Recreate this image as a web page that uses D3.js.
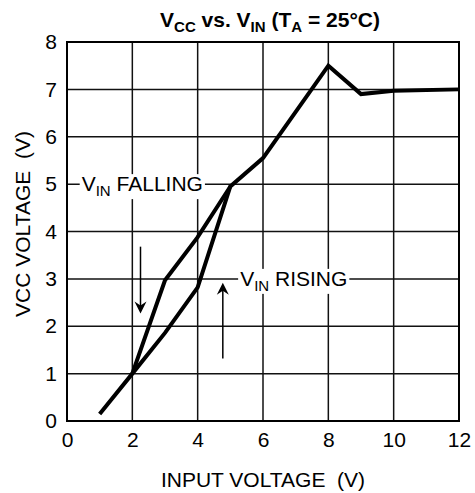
<!DOCTYPE html>
<html>
<head>
<meta charset="utf-8">
<script src="https://cdn.jsdelivr.net/npm/d3@7"></script>
<style>
  body { margin: 0; background: #fff; }
  text { font-family: "Liberation Sans", Arial, sans-serif; fill: #000; }
</style>
</head>
<body>
<script>
// data
const vinRising = [1, 2, 3, 4, 5, 6, 8, 9, 10, 12],
    vccRising = [0.15, 1, 1.86, 2.82, 4.95, 5.55, 7.5, 6.9, 6.97, 7.0],
    vinFalling = [2, 3, 4, 5],
    vccFalling = [1, 2.97, 3.88, 4.95],
    xTicks = [0, 2, 4, 6, 8, 10, 12],
    yTicks = [0, 1, 2, 3, 4, 5, 6, 7, 8];

const margin = { top: 42, right: 16, bottom: 72, left: 67 },
    width = 475,
    height = 493,
    graphWidth = width - margin.left - margin.right,
    graphHeight = height - margin.top - margin.bottom;

const svg = d3.select("body").append("svg")
    .attr("width", width)
    .attr("height", height);

const graph = svg.append("g")
    .attr("transform", `translate(${margin.left}, ${margin.top})`);

const x = d3.scaleLinear().domain([0, 12]).range([0, graphWidth]),
    y = d3.scaleLinear().domain([0, 8]).range([graphHeight, 0]);

// grid
graph.append("g")
    .selectAll("line")
    .data(xTicks)
    .join("line")
    .attr("x1", d => x(d)).attr("x2", d => x(d))
    .attr("y1", 0).attr("y2", graphHeight)
    .attr("stroke", "#111").attr("stroke-width", 1.5);

graph.append("g")
    .selectAll("line")
    .data(yTicks)
    .join("line")
    .attr("x1", 0).attr("x2", graphWidth)
    .attr("y1", d => y(d)).attr("y2", d => y(d))
    .attr("stroke", "#111").attr("stroke-width", 1.5);

graph.append("rect")
    .attr("width", graphWidth).attr("height", graphHeight)
    .attr("fill", "none").attr("stroke", "#000").attr("stroke-width", 2);

// axes (labels only)
const xAxis = d3.axisBottom(x).tickValues(xTicks).tickSize(0).tickPadding(11);
const yAxis = d3.axisLeft(y).tickValues(yTicks).tickSize(0).tickPadding(10);

graph.append("g")
    .attr("transform", `translate(0, ${graphHeight})`)
    .call(xAxis)
    .call(g => g.select(".domain").remove())
    .selectAll("text")
    .style("font-size", "21px")
    .style("font-family", "Liberation Sans, Arial, sans-serif");

graph.append("g")
    .call(yAxis)
    .call(g => g.select(".domain").remove())
    .selectAll("text")
    .style("font-size", "21px")
    .style("font-family", "Liberation Sans, Arial, sans-serif");

// annotation labels with white backing
function subLabel(xv, yv, main, sub, rest) {
    const g = graph.append("g");
    const bg = g.append("rect").attr("fill", "#fff");
    const t = g.append("text")
        .attr("x", x(xv)).attr("y", y(yv) + 7)
        .style("font-size", "21px");
    t.append("tspan").text(main);
    t.append("tspan").attr("dy", 5).style("font-size", "15px").text(sub);
    t.append("tspan").attr("dy", -5).text(rest);
    const b = t.node().getBBox();
    bg.attr("x", b.x - 2).attr("y", b.y + 2).attr("width", b.width + 4).attr("height", b.height - 2);
}

// curves
const line = d3.line().x(d => x(d[0])).y(d => y(d[1]));

graph.append("path")
    .datum(d3.zip(vinRising, vccRising))
    .attr("fill", "none").attr("stroke", "#000").attr("stroke-width", 4)
    .attr("stroke-linejoin", "miter")
    .attr("d", line);

graph.append("path")
    .datum(d3.zip(vinFalling, vccFalling))
    .attr("fill", "none").attr("stroke", "#000").attr("stroke-width", 4)
    .attr("d", line);

subLabel(0.45, 5, "V", "IN", " FALLING");
subLabel(5.3, 3, "V", "IN", " RISING");

// arrows
function arrow(xv, y0, y1) {
    const px = x(xv), p0 = y(y0), p1 = y(y1);
    const dir = p1 > p0 ? 1 : -1;
    graph.append("line")
        .attr("x1", px).attr("x2", px)
        .attr("y1", p0).attr("y2", p1 - dir * 6)
        .attr("stroke", "#000").attr("stroke-width", 1.5);
    graph.append("path")
        .attr("d", `M${px},${p1} L${px - 6},${p1 - dir * 12} L${px},${p1 - dir * 8} L${px + 6},${p1 - dir * 12} Z`)
        .attr("fill", "#000");
}
arrow(2.25, 3.68, 2.27);
arrow(4.77, 1.32, 2.92);

// title
const title = svg.append("text")
    .attr("x", 270).attr("y", 27)
    .attr("text-anchor", "middle")
    .style("font-size", "21px")
    .style("font-weight", "bold");
title.append("tspan").text("V");
title.append("tspan").attr("dy", 5).style("font-size", "15px").text("CC");
title.append("tspan").attr("dy", -5).text(" vs. V");
title.append("tspan").attr("dy", 5).style("font-size", "15px").text("IN");
title.append("tspan").attr("dy", -5).text(" (T");
title.append("tspan").attr("dy", 5).style("font-size", "15px").text("A");
title.append("tspan").attr("dy", -5).text(" = 25°C)");

// axis titles
svg.append("text")
    .attr("x", margin.left + graphWidth / 2).attr("y", 487)
    .attr("text-anchor", "middle")
    .style("font-size", "21px")
    .style("white-space", "pre")
    .attr("xml:space", "preserve")
    .text("INPUT VOLTAGE  (V)");

svg.append("text")
    .attr("transform", "translate(30, 224) rotate(-90)")
    .attr("text-anchor", "middle")
    .style("font-size", "21px")
    .style("white-space", "pre")
    .attr("xml:space", "preserve")
    .text("VCC VOLTAGE  (V)");
</script>
</body>
</html>
